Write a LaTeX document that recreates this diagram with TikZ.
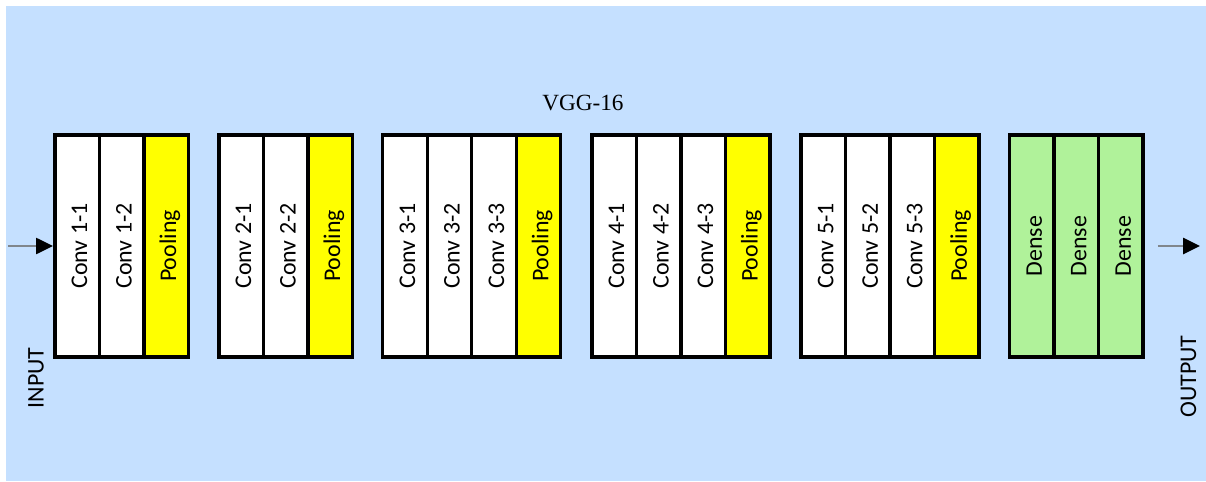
\documentclass[tikz,border=0pt]{standalone}
\usepackage{fontspec}
\setmainfont{Liberation Serif}
\setsansfont{Carlito}
\usetikzlibrary{positioning,arrows.meta}

\definecolor{bgblue}{RGB}{197,224,255}
\definecolor{poolyellow}{RGB}{255,255,0}
\definecolor{densegreen}{RGB}{176,242,154}
\definecolor{flowgray}{RGB}{128,134,140}

% upright text turned on its side, with a fixed line box
\newcommand{\vlabel}[1]{\rotatebox{90}{\rule[-0.1cm]{0pt}{0.7cm}#1}}

\tikzset{
	layer/.style={draw=black, line width=0.085cm, minimum width=1.1125cm, minimum height=5.55cm,
		inner sep=0pt, outer sep=0pt, font=\sffamily\fontsize{17}{20}\selectfont},
	conv/.style={layer, fill=white},
	pool/.style={layer, fill=poolyellow},
	dense/.style={layer, fill=densegreen},
	flow/.style={draw=flowgray, line width=0.05cm, -{Triangle[black, length=0.42cm, width=0.4cm]}},
	side/.style={rotate=90, inner sep=0pt, font=\sffamily\fontsize{17}{20}\selectfont}
}

\begin{document}
\begin{tikzpicture}[node distance=0pt]
			%%%%% START %%%%%
			
			\useasboundingbox (0, 0) rectangle (30.15, 12.025);
			\fill[bgblue] (0.15, 0) rectangle (30.15, 11.875);
			
			\node[font=\fontsize{16.5}{19}\selectfont] (title) at (14.575, 9.45) {VGG-16};
			
			% block 1
			\node[conv] (c11) at (1.931, 5.875) {\vlabel{Conv 1-1}};
			\node[conv, right=of c11] (c12) {\vlabel{Conv 1-2}};
			\node[pool, right=of c12] (p1) {\vlabel{Pooling}};
			
			% block 2
			\node[conv, right=0.76cm of p1] (c21) {\vlabel{Conv 2-1}};
			\node[conv, right=of c21] (c22) {\vlabel{Conv 2-2}};
			\node[pool, right=of c22] (p2) {\vlabel{Pooling}};
			
			% block 3
			\node[conv, right=0.76cm of p2] (c31) {\vlabel{Conv 3-1}};
			\node[conv, right=of c31] (c32) {\vlabel{Conv 3-2}};
			\node[conv, right=of c32] (c33) {\vlabel{Conv 3-3}};
			\node[pool, right=of c33] (p3) {\vlabel{Pooling}};
			
			% block 4
			\node[conv, right=0.78cm of p3] (c41) {\vlabel{Conv 4-1}};
			\node[conv, right=of c41] (c42) {\vlabel{Conv 4-2}};
			\node[conv, right=of c42] (c43) {\vlabel{Conv 4-3}};
			\node[pool, right=of c43] (p4) {\vlabel{Pooling}};
			
			% block 5
			\node[conv, right=0.78cm of p4] (c51) {\vlabel{Conv 5-1}};
			\node[conv, right=of c51] (c52) {\vlabel{Conv 5-2}};
			\node[conv, right=of c52] (c53) {\vlabel{Conv 5-3}};
			\node[pool, right=of c53] (p5) {\vlabel{Pooling}};
			
			% fully connected
			\node[dense, right=0.76cm of p5] (d1) {\vlabel{Dense}};
			\node[dense, right=of d1] (d2) {\vlabel{Dense}};
			\node[dense, right=of d2] (d3) {\vlabel{Dense}};
			
			% in and out
			\coordinate (src) at (0.2, 5.875);
			\coordinate (dst) at (30.0, 5.875);
			\draw[flow, shorten >=0.05cm] (src) -- (c11.west);
			\draw[flow, shorten <=0.37cm] (d3.east) -- (dst);
			
			\node[side] (inlbl) at (0.9, 2.575) {INPUT};
			\node[side] (outlbl) at (29.71, 2.61) {OUTPUT};
			
			%%%%% END %%%%%
\end{tikzpicture}
\end{document}
